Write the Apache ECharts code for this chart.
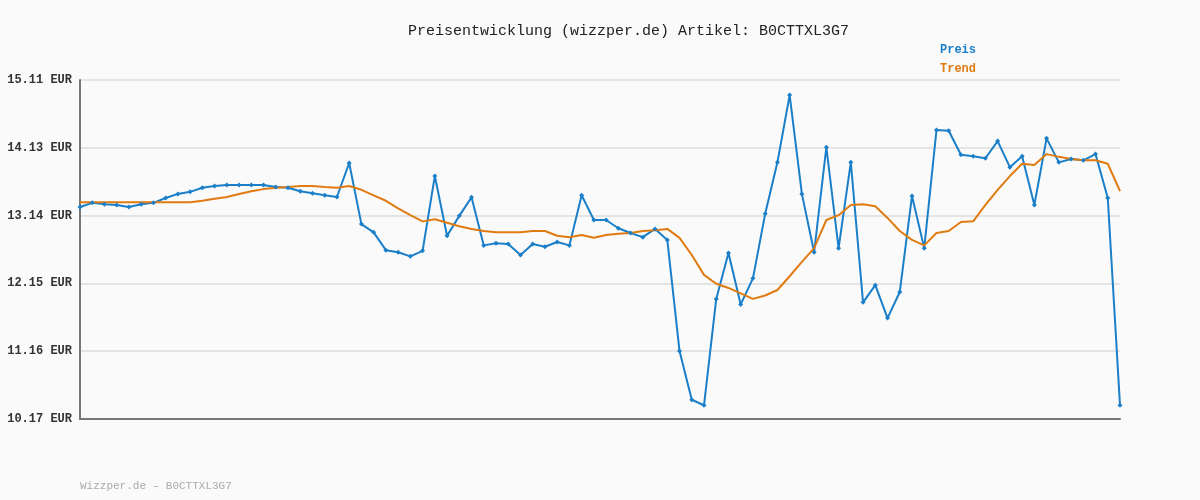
<!DOCTYPE html>
<html>
<head>
<meta charset="utf-8">
<script src="https://cdn.jsdelivr.net/npm/echarts@6/dist/echarts.min.js"></script>
<style>html,body{margin:0;padding:0;background:#fafafa;}#main{width:1200px;height:500px;}</style>
</head>
<body>
<div id="main"></div>
<script>
var preis = [13.26, 13.32, 13.30, 13.29, 13.26, 13.30, 13.32, 13.39, 13.45, 13.48,
    13.54, 13.565, 13.58, 13.58, 13.58, 13.58, 13.55, 13.54, 13.49, 13.46,
    13.43, 13.405, 13.90, 13.01, 12.89, 12.63, 12.60, 12.54, 12.62, 13.71,
    12.84, 13.13, 13.40, 12.70, 12.73, 12.72, 12.56, 12.72, 12.68, 12.75,
    12.70, 13.43, 13.07, 13.07, 12.95, 12.88, 12.82, 12.94, 12.78, 11.16,
    10.45, 10.37, 11.92, 12.59, 11.84, 12.22, 13.16, 13.91, 14.89, 13.45,
    12.60, 14.13, 12.66, 13.91, 11.87, 12.12, 11.64, 12.02, 13.42, 12.66,
    14.38, 14.37, 14.02, 14.00, 13.97, 14.22, 13.84, 14.00, 13.29, 14.26,
    13.91, 13.96, 13.94, 14.03, 13.39, 10.37];
var trend = [13.33, 13.33, 13.33, 13.33, 13.33, 13.33, 13.33, 13.33, 13.33, 13.33,
    13.35, 13.38, 13.405, 13.45, 13.49, 13.52, 13.54, 13.55, 13.565, 13.565,
    13.55, 13.54, 13.565, 13.51, 13.43, 13.35, 13.24, 13.14, 13.05, 13.08,
    13.03, 12.98, 12.94, 12.91, 12.89, 12.89, 12.89, 12.91, 12.91, 12.84,
    12.82, 12.85, 12.81, 12.85, 12.87, 12.88, 12.91, 12.92, 12.94, 12.81,
    12.56, 12.27, 12.14, 12.08, 12.00, 11.92, 11.97, 12.05, 12.25, 12.46,
    12.66, 13.07, 13.14, 13.29, 13.30, 13.27, 13.10, 12.91, 12.78, 12.70,
    12.88, 12.91, 13.04, 13.05, 13.29, 13.51, 13.71, 13.89, 13.87, 14.03,
    13.99, 13.96, 13.94, 13.94, 13.89, 13.49];
var tickLabels = ['10.17 EUR', '11.16 EUR', '12.15 EUR', '13.14 EUR', '14.13 EUR', '15.11 EUR'];
var tage = preis.map(function (v, i) { return String(i + 1); });

var chart = echarts.init(document.getElementById('main'));
var mono = '"Liberation Mono", "Courier New", monospace';
var yMin = 10.17, yStep = 0.988;
chart.setOption({
    backgroundColor: '#fafafa',
    animation: false,
    title: {
        text: 'Preisentwicklung (wizzper.de) Artikel: B0CTTXL3G7',
        left: 403, top: 19,
        textStyle: { fontFamily: mono, fontSize: 15, fontWeight: 'normal', color: '#222' }
    },
    legend: {
        orient: 'vertical', left: 930, top: 39, itemGap: 7,
        itemWidth: 0, itemHeight: 0, icon: 'rect',
        textStyle: { fontFamily: mono, fontSize: 12, fontWeight: 'bold' },
        data: [
            { name: 'Preis', textStyle: { color: '#1a7fc8' } },
            { name: 'Trend', textStyle: { color: '#e07b12' } }
        ]
    },
    graphic: [{
        type: 'text', left: 80, top: 481,
        style: { text: 'Wizzper.de – B0CTTXL3G7', fill: '#aaa', font: '11px ' + mono }
    }],
    grid: { left: 80, right: 80, top: 80, bottom: 81 },
    xAxis: {
        type: 'category', data: tage, boundaryGap: false,
        axisLine: { lineStyle: { color: '#777', width: 2 } },
        axisTick: { show: false }, axisLabel: { show: false }
    },
    yAxis: {
        type: 'value', min: yMin, max: 15.11, interval: yStep,
        axisLine: { show: true, lineStyle: { color: '#777', width: 2 } },
        axisTick: { show: false },
        splitLine: { lineStyle: { color: '#e4e4e4', width: 2 } },
        axisLabel: {
            fontFamily: mono, fontSize: 12, fontWeight: 'bold', color: '#333', margin: 8,
            formatter: function (v) { return tickLabels[Math.round((v - yMin) / yStep)]; }
        }
    },
    series: [{
        name: 'Preis', type: 'line', data: preis,
        symbol: 'diamond', symbolSize: 5,
        itemStyle: { color: '#1a7fc8' },
        lineStyle: { color: '#1a7fc8', width: 2 }
    }, {
        name: 'Trend', type: 'line', data: trend,
        showSymbol: false,
        itemStyle: { color: '#e07b12' },
        lineStyle: { color: '#e07b12', width: 2 }
    }]
});
</script>
</body>
</html>
